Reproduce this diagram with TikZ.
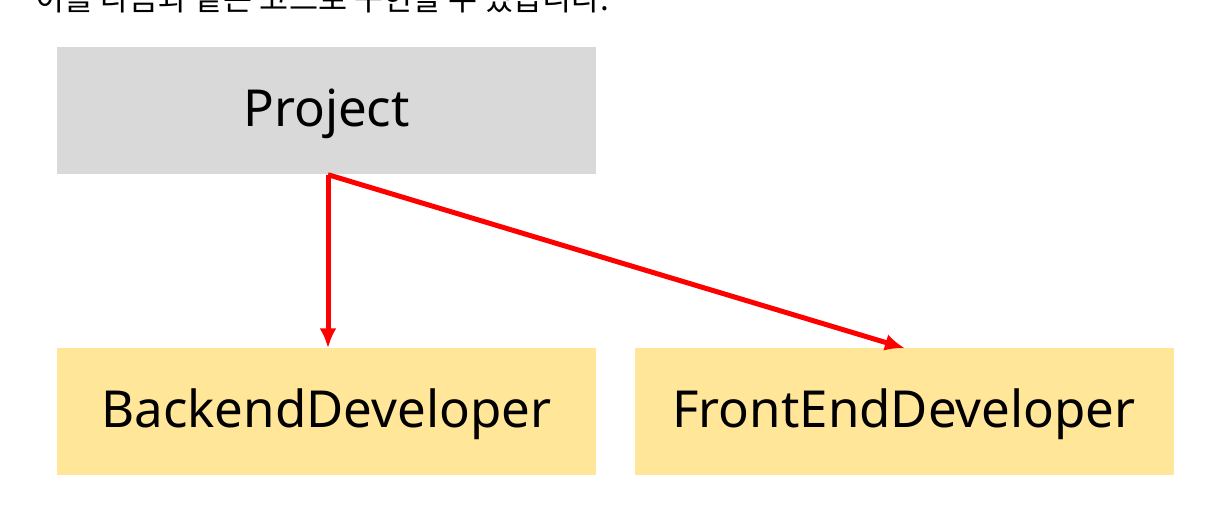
\documentclass[tikz,border=0pt]{standalone}
\usepackage{fontspec}
\setmainfont{Noto Sans}
\newfontfamily\krfont{Noto Sans CJK KR}
\usetikzlibrary{arrows.meta}
\definecolor{boxgray}{HTML}{D9D9D9}
\definecolor{boxyellow}{HTML}{FFE699}
\begin{document}
\begin{tikzpicture}[>={Latex[length=20bp,width=17bp]},line join=bevel,
    cls/.style={rectangle,inner sep=0pt,minimum width=539bp,minimum height=127bp,
      text height=38bp,text depth=7bp,
      font=\fontsize{51bp}{60bp}\selectfont},
    link/.style={->,draw=red,line width=5bp}]
    \useasboundingbox (0bp,0bp) rectangle (1216bp,524bp);
    %%
    \node (txt) at (35.0bp,513.0bp) [anchor=base west,inner sep=0pt,font=\krfont\fontsize{31.6bp}{38bp}\selectfont] {이를 다음과 같은 코드로 구현할 수 있습니다.};
    \node (prj) at (326.5bp,413.0bp) [cls,fill=boxgray] {Project};
    \node (be) at (326.5bp,112.0bp) [cls,fill=boxyellow] {BackendDeveloper};
    \node (fe) at (904.0bp,112.0bp) [cls,fill=boxyellow] {FrontEndDeveloper};
    \coordinate (src) at ([xshift=1.5bp]prj.south);
    \draw [link] (src) -- ([xshift=1.5bp]be.north);
    \draw [link] (src) -- ([xshift=1.0bp]fe.north);
    %
\end{tikzpicture}
\end{document}
